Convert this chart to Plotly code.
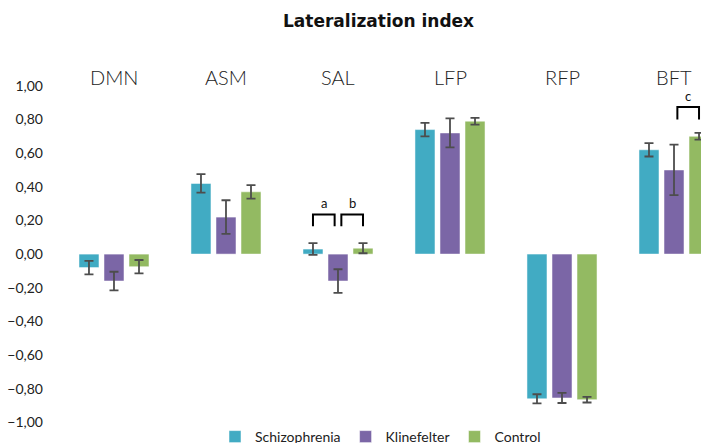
import plotly.graph_objects as go

categories = ["DMN", "ASM", "SAL", "LFP", "RFP", "BFT"]
series_names = ["Schizophrenia", "Klinefelter", "Control"]
schizophrenia = [-0.08, 0.42, 0.03, 0.74, -0.86, 0.62]
schizophrenia_err = [0.04, 0.055, 0.035, 0.04, 0.027, 0.04]
klinefelter = [-0.16, 0.22, -0.16, 0.72, -0.855, 0.50]
klinefelter_err = [0.055, 0.10, 0.07, 0.086, 0.03, 0.15]
control = [-0.075, 0.37, 0.035, 0.79, -0.865, 0.70]
control_err = [0.04, 0.04, 0.03, 0.02, 0.017, 0.02]
colors = ["#41ABC3", "#7B66A6", "#93BA62"]

# significance brackets: (category, from series index, to series index, label)
brackets = [("SAL", 0, 1, "a"), ("SAL", 1, 2, "b"), ("BFT", 1, 2, "c")]
bracket_base = [0.166, 0.166, 0.80]
bracket_top = [0.236, 0.236, 0.874]

FIG_H = 453

fig = go.Figure()
for name, vals, errs, col in zip(series_names,
                                 [schizophrenia, klinefelter, control],
                                 [schizophrenia_err, klinefelter_err, control_err],
                                 colors):
    fig.add_trace(go.Bar(
        x=categories, y=vals, name=name,
        marker=dict(color=col, line=dict(color="rgba(255,255,255,0.5)", width=1)),
        error_y=dict(type="data", array=errs, color="#4d4d4d", thickness=1.8, width=4.5),
    ))

bargap = 0.33
step = (1 - bargap) / 3
for (cat, i0, i1, lab), base, top in zip(brackets, bracket_base, bracket_top):
    c = categories.index(cat)
    xa = c + (i0 - 1) * step
    xb = c + (i1 - 1) * step
    if i0 == 1:
        xa += 0.03
    if i1 == 1:
        xb -= 0.03
    fig.add_shape(type="path", xref="x", yref="y",
                  path=f"M {xa},{base} L {xa},{top} L {xb},{top} L {xb},{base}",
                  line=dict(color="black", width=2))
    fig.add_annotation(x=(xa + xb) / 2, y=top, text=lab, showarrow=False,
                       yanchor="bottom", yshift=1, font=dict(size=13, color="#111"))

for i, cat in enumerate(categories):
    fig.add_annotation(x=i, y=1.05, text=cat, showarrow=False, yanchor="middle",
                       font=dict(size=20, color="#222", family="Lato", weight=300))

fig.update_layout(
    width=701, height=FIG_H,
    margin=dict(l=60, r=0, t=69, b=0),
    paper_bgcolor="white", plot_bgcolor="white",
    separators=", ",
    barmode="group", bargap=bargap, bargroupgap=0.2,
    font=dict(family="Lato", size=14, color="#222"),
    title=dict(text="<b>Lateralization index</b>", x=0.54, xanchor="center",
               y=1 - 21 / FIG_H, yref="container", yanchor="middle",
               font=dict(size=17, color="#111", family="DejaVu Sans")),
    showlegend=True,
    legend=dict(orientation="h", x=0.5, xanchor="center", y=0, yanchor="bottom",
                bgcolor="rgba(0,0,0,0)", font=dict(size=14), itemwidth=30,
                traceorder="normal"),
    xaxis=dict(range=[-0.482, 5.241], showticklabels=False, showline=False,
               showgrid=False, zeroline=False, ticks=""),
    yaxis=dict(range=[-1.182, 1.1], tickvals=[-1, -0.8, -0.6, -0.4, -0.2, 0, 0.2, 0.4, 0.6, 0.8, 1.0],
               tickformat=".2f", showgrid=False, zeroline=False, showline=False,
               ticklabelstandoff=16, tickfont=dict(size=14, color="#222")),
)

fig.write_html("out.html", config={"displayModeBar": False},
               post_script="document.body.style.margin='0';document.body.style.overflow='hidden';")
